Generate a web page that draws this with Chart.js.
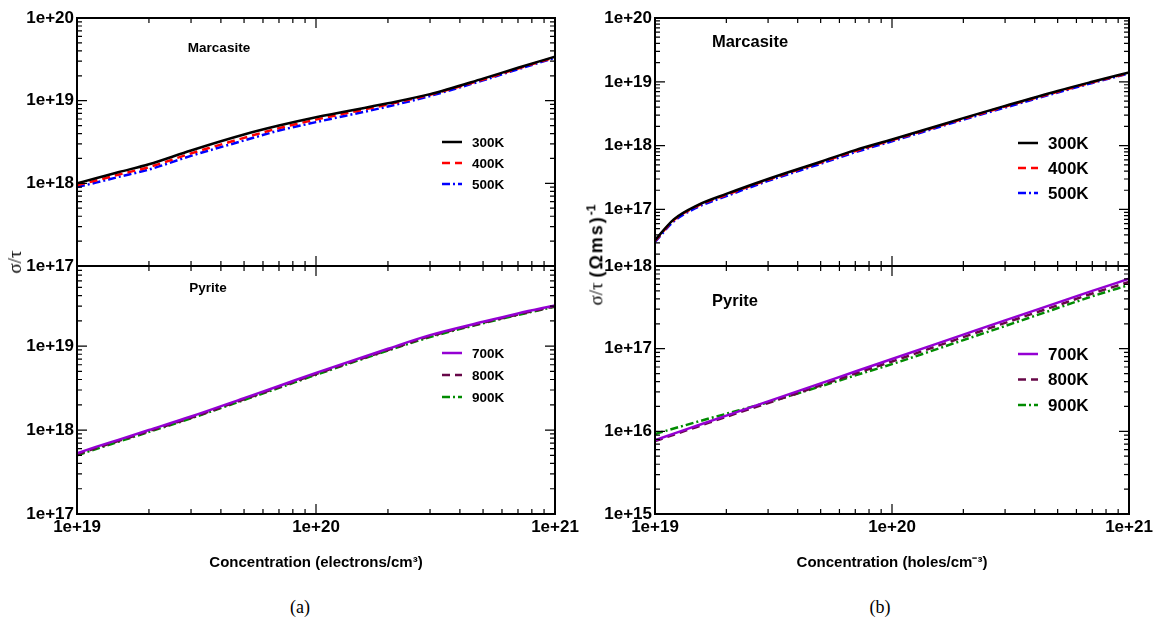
<!DOCTYPE html>
<html lang="en">
<head>
<meta charset="UTF-8" />
<title>sigma/tau vs concentration - Marcasite and Pyrite</title>
<style>
  body { margin: 0; width: 1159px; height: 627px; background: #fff; position: relative; overflow: hidden; }
  .box { position: absolute; }
  .cap { position: absolute; font-family: "Liberation Serif", "DejaVu Serif", serif; font-size: 18px; transform: translateX(-50%); }
  .ytitle { position: absolute; transform: translate(-50%, -50%) rotate(-90deg); white-space: nowrap; font-size: 19px; color: #000; }
  .ytitle .s { font-family: "Liberation Serif", "DejaVu Serif", serif; }
  .ytitle b { font-family: "Liberation Sans", Arial, sans-serif; font-size: 18px; letter-spacing: 2px; }
  .ytitle sup { font-family: "Liberation Sans", Arial, sans-serif; font-size: 12px; font-weight: bold; }
</style>
</head>
<body>
<div class="box" style="left:0;top:0;width:595px;height:290px"><canvas id="tl"></canvas></div>
<div class="box" style="left:0;top:240px;width:595px;height:336px"><canvas id="bl"></canvas></div>
<div class="box" style="left:578px;top:0;width:581px;height:290px"><canvas id="tr"></canvas></div>
<div class="box" style="left:578px;top:240px;width:581px;height:336px"><canvas id="br"></canvas></div>

<div class="ytitle" style="left:15px;top:262px"><span class="s">σ/τ</span></div>
<div class="ytitle" style="left:596px;top:255px"><span class="s">σ/τ</span> <b>(Ωms)</b><sup>-1</sup></div>
<div class="cap" style="left:300px;top:597px">(a)</div>
<div class="cap" style="left:880px;top:597px">(b)</div>

<script src="https://cdn.jsdelivr.net/npm/chart.js"></script>
<script>
  // carrier concentration (cm^-3), shared by all panels
  const conc = [1e19, 1.2e19, 1.5e19, 2e19, 3e19, 5e19, 7e19, 1e20, 2e20, 3e20, 5e20, 7e20, 1e21];

  // (a) electrons, Marcasite
  const aMar300 = [1.0e18, 1.15e18, 1.37e18, 1.7e18, 2.5e18, 3.9e18, 5.0e18, 6.3e18, 9.3e18, 1.2e19, 1.85e19, 2.5e19, 3.4e19];
  const aMar400 = [9.5e17, 1.08e18, 1.28e18, 1.57e18, 2.3e18, 3.55e18, 4.65e18, 5.9e18, 9.0e18, 1.18e19, 1.8e19, 2.45e19, 3.35e19];
  const aMar500 = [9.0e17, 1.02e18, 1.2e18, 1.47e18, 2.15e18, 3.3e18, 4.35e18, 5.5e18, 8.5e18, 1.14e19, 1.76e19, 2.4e19, 3.3e19];
  // (a) electrons, Pyrite
  const aPyr700 = [5.3e17, 6.3e17, 7.7e17, 1.0e18, 1.45e18, 2.4e18, 3.35e18, 4.8e18, 9.3e18, 1.35e19, 1.95e19, 2.45e19, 3.05e19];
  const aPyr800 = [5.15e17, 6.1e17, 7.45e17, 9.7e17, 1.4e18, 2.33e18, 3.25e18, 4.65e18, 9.0e18, 1.31e19, 1.9e19, 2.38e19, 2.98e19];
  const aPyr900 = [5.0e17, 5.95e17, 7.3e17, 9.5e17, 1.38e18, 2.28e18, 3.18e18, 4.55e18, 8.85e18, 1.28e19, 1.87e19, 2.35e19, 2.95e19];
  // (b) holes, Marcasite
  const bMar300 = [3.3e16, 7.0e16, 1.15e17, 1.75e17, 3.0e17, 5.6e17, 8.5e17, 1.25e18, 2.7e18, 4.2e18, 7.2e18, 1.0e19, 1.4e19];
  const bMar400 = [3.2e16, 6.8e16, 1.12e17, 1.7e17, 2.92e17, 5.45e17, 8.25e17, 1.22e18, 2.63e18, 4.1e18, 7.0e18, 9.8e18, 1.37e19];
  const bMar500 = [3.1e16, 6.5e16, 1.07e17, 1.62e17, 2.8e17, 5.2e17, 7.9e17, 1.17e18, 2.55e18, 3.95e18, 6.8e18, 9.6e18, 1.35e19];
  // (b) holes, Pyrite
  const bPyr700 = [7.8e15, 9.4e15, 1.17e16, 1.55e16, 2.3e16, 3.8e16, 5.3e16, 7.5e16, 1.48e17, 2.2e17, 3.6e17, 5.0e17, 7.0e17];
  const bPyr800 = [7.6e15, 9.1e15, 1.13e16, 1.5e16, 2.2e16, 3.6e16, 5.0e16, 7.0e16, 1.38e17, 2.05e17, 3.35e17, 4.65e17, 6.4e17];
  const bPyr900 = [9.3e15, 1.08e16, 1.3e16, 1.63e16, 2.25e16, 3.5e16, 4.75e16, 6.5e16, 1.27e17, 1.88e17, 3.1e17, 4.3e17, 5.9e17];

  const xTicks = [1e19, 1e20, 1e21];
  const sans = '"Liberation Sans", Arial, sans-serif';

  function pts(arr) {
    return conc.map((x, i) => ({ x: x, y: arr[i] }));
  }

  function series(label, arr, color, dash) {
    return {
      label: label,
      data: pts(arr),
      borderColor: color,
      borderDash: dash,
      borderWidth: 2.5,
      pointRadius: 0,
      cubicInterpolationMode: "monotone",
      fill: false,
    };
  }

  function logTicks(scale) {
    let out = [];
    const lo = Math.floor(Math.log10(scale.min));
    const hi = Math.ceil(Math.log10(scale.max));
    for (let d = lo; d <= hi; d++) {
      for (let k = 1; k <= 9; k++) {
        const v = k * Math.pow(10, d);
        if (v >= scale.min * 0.999 && v <= scale.max * 1.001) out.push([v, k === 1]);
      }
    }
    return out;
  }

  // frame, inward ticks, panel name and legend
  const decor = {
    id: "decor",
    afterDraw(chart, args, o) {
      const { ctx, chartArea: a, scales } = chart;
      ctx.save();
      ctx.strokeStyle = "#000";
      ctx.lineWidth = 1.2;
      ctx.beginPath();
      logTicks(scales.y).forEach(([v, major]) => {
        const p = scales.y.getPixelForValue(v);
        const len = major ? 10 : 5;
        ctx.moveTo(a.left, p); ctx.lineTo(a.left + len, p);
        ctx.moveTo(a.right, p); ctx.lineTo(a.right - len, p);
      });
      logTicks(scales.x).forEach(([v, major]) => {
        const p = scales.x.getPixelForValue(v);
        const len = major ? 10 : 5;
        ctx.moveTo(p, a.bottom); ctx.lineTo(p, a.bottom - len);
        ctx.moveTo(p, a.top); ctx.lineTo(p, a.top + len);
      });
      ctx.stroke();
      ctx.lineWidth = 2;
      ctx.strokeRect(a.left, a.top, a.right - a.left, a.bottom - a.top);

      ctx.fillStyle = "#000";
      ctx.font = "bold " + o.size + "px " + sans;
      ctx.textAlign = "center";
      ctx.textBaseline = "middle";
      ctx.fillText(o.name, a.left + o.nameX, a.top + o.nameY);

      ctx.textAlign = "left";
      ctx.font = "bold " + o.legSize + "px " + sans;
      chart.data.datasets.forEach((ds, i) => {
        const y = a.top + o.legY + i * o.legGap;
        const x = a.left + o.legX;
        ctx.beginPath();
        ctx.setLineDash(o.legDash[i]);
        ctx.strokeStyle = ds.borderColor;
        ctx.lineWidth = 2.5;
        ctx.moveTo(x, y); ctx.lineTo(x + o.legLen, y);
        ctx.stroke();
        ctx.setLineDash([]);
        ctx.fillStyle = "#000";
        ctx.fillText(ds.label, x + o.legLen + 10, y + 1);
      });
      ctx.restore();
    },
  };

  function panel(id, datasets, yMin, yMax, bottom, xTitle, pad, deco) {
    new Chart(document.getElementById(id), {
      type: "line",
      data: { datasets: datasets },
      options: {
        responsive: true,
        maintainAspectRatio: false,
        animation: false,
        layout: { padding: pad },
        plugins: { legend: { display: false }, tooltip: { enabled: false }, decor: deco },
        scales: {
          x: {
            type: "logarithmic",
            min: 1e19,
            max: 1e21,
            afterBuildTicks: (s) => { s.ticks = xTicks.map((v) => ({ value: v })); },
            afterFit: (s) => { s.height = bottom ? 62 : 0; },
            grid: { display: false, drawTicks: false },
            border: { display: false },
            ticks: {
              display: bottom,
              padding: 3,
              maxRotation: 0,
              autoSkip: false,
              color: "#000",
              font: { family: sans, size: 17, weight: "bold" },
              callback: (v) => Number(v).toExponential(),
            },
            title: {
              display: bottom,
              text: xTitle,
              color: "#000",
              font: { family: sans, size: 15, weight: "bold" },
            },
          },
          y: {
            type: "logarithmic",
            min: yMin,
            max: yMax,
            afterBuildTicks: (s) => {
              let t = [];
              for (let d = Math.ceil(Math.log10(yMin) - 1e-9); d <= Math.floor(Math.log10(yMax) + 1e-9); d++) t.push({ value: Math.pow(10, d) });
              s.ticks = t;
            },
            afterFit: (s) => { s.width = 77; },
            grid: { display: false, drawTicks: false },
            border: { display: false },
            ticks: {
              padding: 3,
              autoSkip: false,
              color: "#000",
              font: { family: sans, size: 17, weight: "bold" },
              callback: (v) => Number(v).toExponential(),
            },
          },
        },
      },
      plugins: [decor],
    });
  }

  const dashMar = [[], [8, 5], [8, 3, 2, 3]];
  const dashPyr = [[], [8, 5], [8, 3, 2, 3]];

  panel("tl", [
    series("300K", aMar300, "#000000", []),
    series("400K", aMar400, "#ff0000", dashMar[1]),
    series("500K", aMar500, "#0000ff", dashMar[2]),
  ], 1e17, 1e20, false, "", { top: 18, right: 40, bottom: 24, left: 0 },
  { name: "Marcasite", nameX: 142, nameY: 30, size: 13.5, legX: 365, legY: 124, legGap: 21, legLen: 20, legSize: 13.5, legDash: dashMar });

  panel("bl", [
    series("700K", aPyr700, "#9400d3", []),
    series("800K", aPyr800, "#670748", dashPyr[1]),
    series("900K", aPyr900, "#008b00", dashPyr[2]),
  ], 1e17, 9e19, true, "Concentration (electrons/cm³)", { top: 26, right: 40, bottom: 0, left: 0 },
  { name: "Pyrite", nameX: 131, nameY: 22, size: 13.5, legX: 365, legY: 87, legGap: 22, legLen: 20, legSize: 13.5, legDash: dashPyr });

  panel("tr", [
    series("300K", bMar300, "#000000", []),
    series("400K", bMar400, "#ff0000", dashMar[1]),
    series("500K", bMar500, "#0000ff", dashMar[2]),
  ], 1.3e16, 1e20, false, "", { top: 18, right: 30, bottom: 24, left: 0 },
  { name: "Marcasite", nameX: 95, nameY: 24, size: 16.5, legX: 363, legY: 125, legGap: 25, legLen: 20, legSize: 17, legDash: dashMar });

  panel("br", [
    series("700K", bPyr700, "#9400d3", []),
    series("800K", bPyr800, "#670748", dashPyr[1]),
    series("900K", bPyr900, "#008b00", dashPyr[2]),
  ], 1e15, 1e18, true, "Concentration (holes/cm⁻³)", { top: 26, right: 30, bottom: 0, left: 0 },
  { name: "Pyrite", nameX: 80, nameY: 35, size: 16.5, legX: 363, legY: 88, legGap: 25.5, legLen: 20, legSize: 17, legDash: dashPyr });
</script>
</body>
</html>
